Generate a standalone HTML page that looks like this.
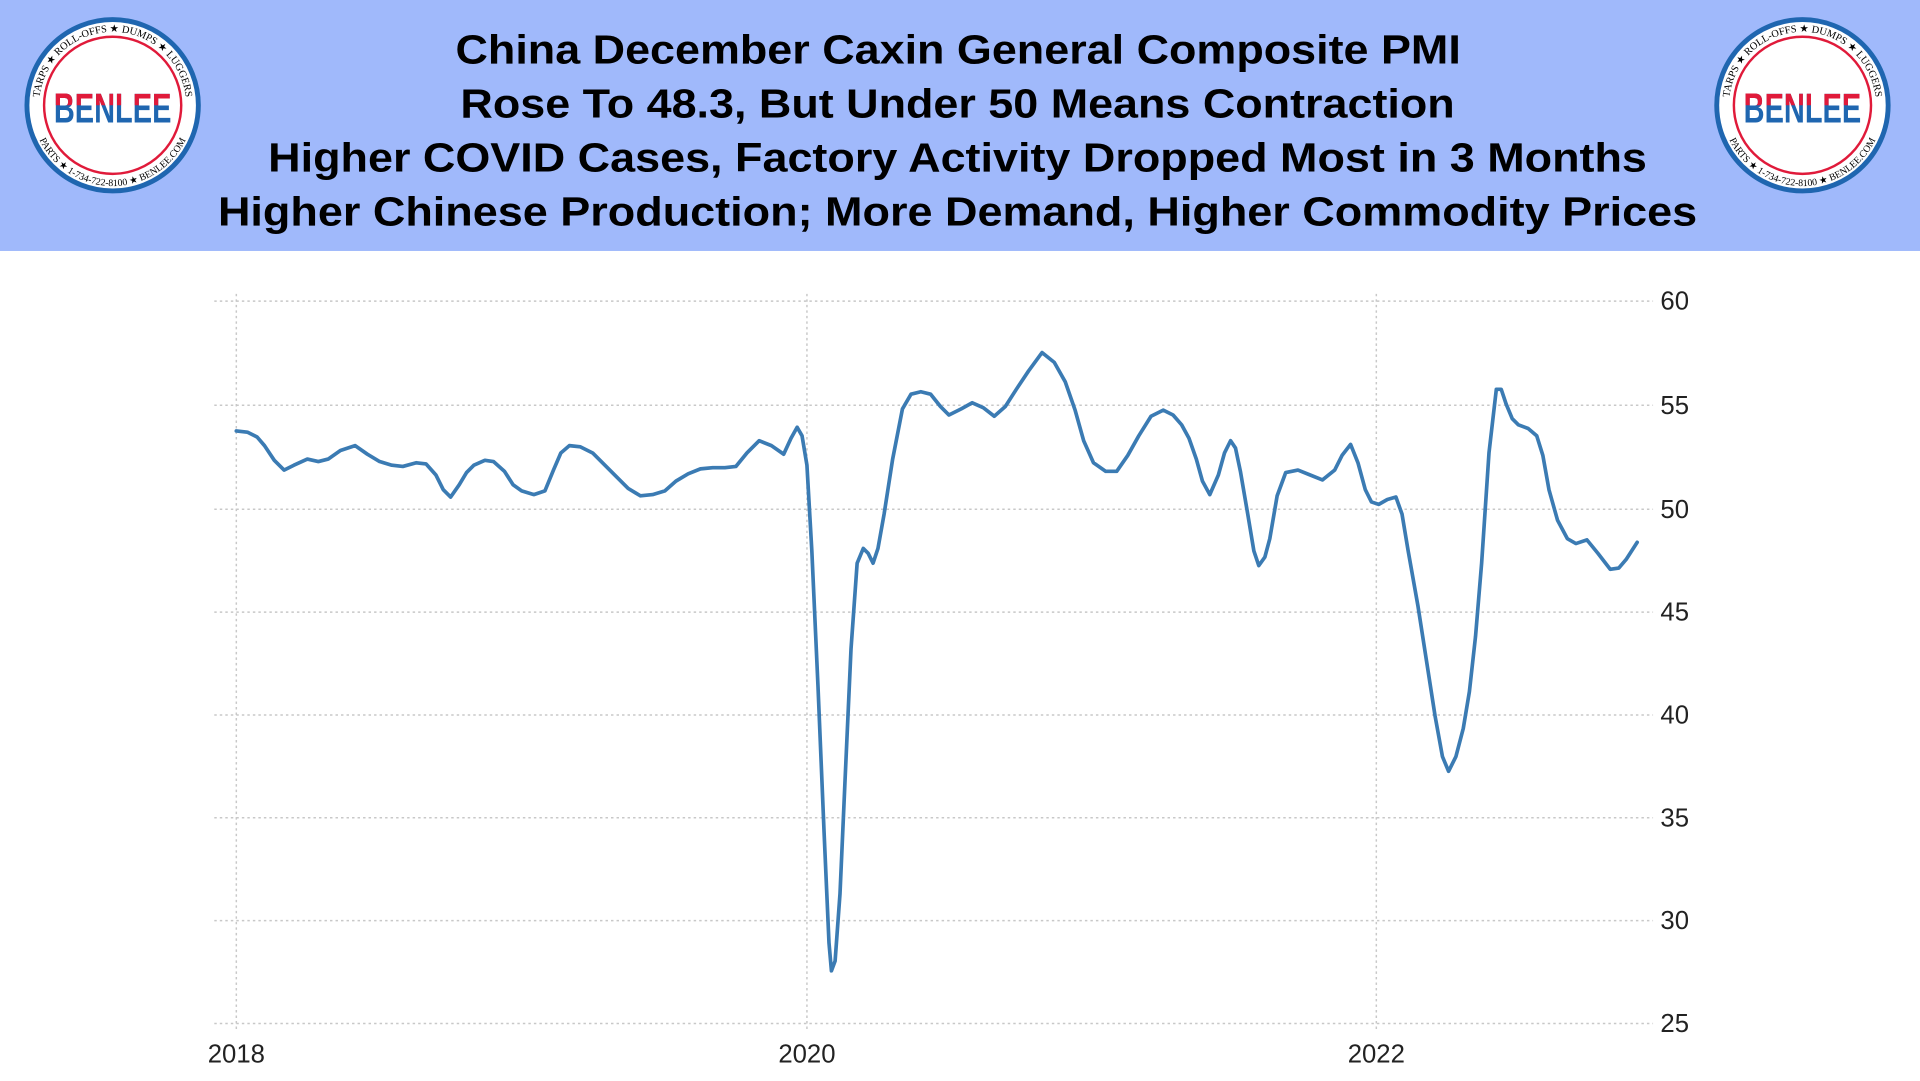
<!DOCTYPE html>
<html><head><meta charset="utf-8"><style>html,body{margin:0;padding:0;background:#fff}svg{display:block}</style></head>
<body>
<svg width="1920" height="1081" viewBox="0 0 1568 883" preserveAspectRatio="none" xmlns="http://www.w3.org/2000/svg">
<defs>
<clipPath id="top"><rect x="0" y="0" width="1568" height="86"/></clipPath>
<path id="arcT" d="M32,86 A60,60 0 1 1 152,86"/>
<path id="arcB" d="M26,86 A66,66 0 0 0 158,86"/>
<path id="arcT2" d="M1412,86 A60,60 0 1 1 1532,86"/>
<path id="arcB2" d="M1406,86 A66,66 0 0 0 1538,86"/>
</defs>
<rect x="0" y="0" width="1568" height="205" fill="#a0b9fb"/>
<g font-family="Liberation Sans, Arial, sans-serif" font-weight="bold" font-size="33" fill="#000">
<text x="372" y="52" textLength="821" lengthAdjust="spacingAndGlyphs">China December Caxin General Composite PMI</text>
<text x="376" y="96" textLength="812" lengthAdjust="spacingAndGlyphs">Rose To 48.3, But Under 50 Means Contraction</text>
<text x="219" y="140" textLength="1126" lengthAdjust="spacingAndGlyphs">Higher COVID Cases, Factory Activity Dropped Most in 3 Months</text>
<text x="178" y="184" textLength="1208" lengthAdjust="spacingAndGlyphs">Higher Chinese Production; More Demand, Higher Commodity Prices</text>
</g>
<g>
<circle cx="92" cy="86" r="70" fill="#fff" stroke="#1f66b0" stroke-width="4"/>
<circle cx="92" cy="86" r="56" fill="#fff" stroke="#e01a3a" stroke-width="2"/>
<text font-family="Liberation Serif, serif" font-size="8.5" fill="#000"><textPath href="#arcT" startOffset="50%" text-anchor="middle">TARPS ★ ROLL-OFFS ★ DUMPS ★ LUGGERS</textPath></text>
<text font-family="Liberation Serif, serif" font-size="8" fill="#000"><textPath href="#arcB" startOffset="50%" text-anchor="middle">PARTS ★ 1-734-722-8100 ★ BENLEE.COM</textPath></text>
<text x="92" y="100" text-anchor="middle" font-family="Liberation Sans Narrow, Liberation Sans, sans-serif" font-weight="bold" font-size="34" fill="#1f66b0" textLength="96" lengthAdjust="spacingAndGlyphs">BENLEE</text>
<text x="92" y="100" text-anchor="middle" font-family="Liberation Sans Narrow, Liberation Sans, sans-serif" font-weight="bold" font-size="34" fill="#e01a3a" clip-path="url(#top)" textLength="96" lengthAdjust="spacingAndGlyphs">BENLEE</text>
</g>
<g>
<circle cx="1472" cy="86" r="70" fill="#fff" stroke="#1f66b0" stroke-width="4"/>
<circle cx="1472" cy="86" r="56" fill="#fff" stroke="#e01a3a" stroke-width="2"/>
<text font-family="Liberation Serif, serif" font-size="8.5" fill="#000"><textPath href="#arcT2" startOffset="50%" text-anchor="middle">TARPS ★ ROLL-OFFS ★ DUMPS ★ LUGGERS</textPath></text>
<text font-family="Liberation Serif, serif" font-size="8" fill="#000"><textPath href="#arcB2" startOffset="50%" text-anchor="middle">PARTS ★ 1-734-722-8100 ★ BENLEE.COM</textPath></text>
<text x="1472" y="100" text-anchor="middle" font-family="Liberation Sans Narrow, Liberation Sans, sans-serif" font-weight="bold" font-size="34" fill="#1f66b0" textLength="96" lengthAdjust="spacingAndGlyphs">BENLEE</text>
<text x="1472" y="100" text-anchor="middle" font-family="Liberation Sans Narrow, Liberation Sans, sans-serif" font-weight="bold" font-size="34" fill="#e01a3a" clip-path="url(#top)" textLength="96" lengthAdjust="spacingAndGlyphs">BENLEE</text>
</g>
<g stroke="#c8c8c8" stroke-width="1.2" stroke-dasharray="2,2.5" fill="none">
<line x1="175" y1="246" x2="1350" y2="246"/>
<line x1="175" y1="331" x2="1350" y2="331"/>
<line x1="175" y1="416" x2="1350" y2="416"/>
<line x1="175" y1="500" x2="1350" y2="500"/>
<line x1="175" y1="584" x2="1350" y2="584"/>
<line x1="175" y1="668" x2="1350" y2="668"/>
<line x1="175" y1="752" x2="1350" y2="752"/>
<line x1="175" y1="836" x2="1350" y2="836"/>
<line x1="193" y1="240" x2="193" y2="842"/>
<line x1="659" y1="240" x2="659" y2="842"/>
<line x1="1124" y1="240" x2="1124" y2="842"/>
</g>
<g font-family="Liberation Sans Narrow, Liberation Sans, sans-serif" font-size="21" fill="#222">
<text x="1356" y="253">60</text>
<text x="1356" y="338">55</text>
<text x="1356" y="423">50</text>
<text x="1356" y="507">45</text>
<text x="1356" y="591">40</text>
<text x="1356" y="675">35</text>
<text x="1356" y="759">30</text>
<text x="1356" y="843">25</text>
<text x="193" y="868" text-anchor="middle">2018</text>
<text x="659" y="868" text-anchor="middle">2020</text>
<text x="1124" y="868" text-anchor="middle">2022</text>
</g>
<polyline fill="none" stroke="#3b7bb3" stroke-width="3" stroke-linejoin="round" stroke-linecap="round" points="193,352 202,353 210,357 216,364 224,376 232,384 240,380 251,375 260,377 268,375 278,368 290,364 300,371 310,377 320,380 329,381 340,378 348,379 356,388 362,400 368,406 375,396 381,386 387,380 396,376 403,377 412,385 419,396 426,401 436,404 445,401 452,384 458,370 465,364 474,365 484,370 494,380 504,390 513,399 523,405 533,404 543,401 552,393 562,387 572,383 582,382 592,382 601,381 610,370 620,360 630,364 640,371 646,358 651,349 655,356 659,380 663,450 668,560 673,680 677,770 679,793 682,785 686,730 690,640 695,530 700,460 705,448 709,452 713,460 717,448 722,420 729,375 737,334 744,322 752,320 760,322 768,332 775,339 785,334 794,329 803,333 812,340 821,332 830,318 840,303 851,288 861,296 870,312 878,335 885,360 893,378 903,385 912,385 921,372 930,356 940,340 950,335 958,339 965,347 971,358 977,375 982,393 988,404 995,388 1000,370 1005,360 1009,366 1013,385 1019,420 1024,450 1028,462 1033,455 1037,440 1043,405 1050,386 1060,384 1070,388 1080,392 1090,384 1096,372 1103,363 1109,378 1115,400 1120,410 1126,412 1133,408 1140,406 1145,420 1150,450 1158,495 1165,540 1172,585 1178,618 1183,630 1189,618 1195,595 1200,565 1205,520 1210,460 1216,370 1222,318 1226,318 1230,330 1235,342 1240,347 1248,350 1255,356 1260,372 1265,400 1272,425 1280,440 1287,444 1296,441 1305,452 1315,465 1322,464 1328,457 1337,443"/>
</svg>
</body></html>
